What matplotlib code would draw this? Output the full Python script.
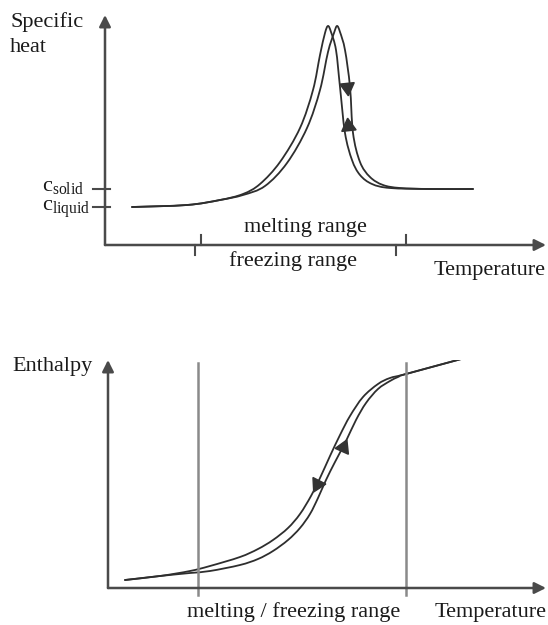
import numpy as np
import matplotlib
matplotlib.use("Agg")
import matplotlib.pyplot as plt
from matplotlib.path import Path
from matplotlib.patches import PathPatch

plt.rcParams['font.family'] = ['Liberation Serif', 'DejaVu Serif']
plt.rcParams['mathtext.fontset'] = 'custom'
plt.rcParams['mathtext.rm'] = 'Liberation Serif'
plt.rcParams['mathtext.it'] = 'Liberation Serif:italic'

W, H = 548, 625

# ---- top panel: specific heat vs temperature (arbitrary units)
c_solid = 56
c_liquid = 38
melt_ticks = [96, 301]
freeze_ticks = [90, 291]

freeze_T = [27, 82, 115, 138, 155, 175, 195, 208, 215, 220, 223, 226, 231, 235, 240, 247, 255, 267, 285, 325, 368]
freeze_c = [38, 40, 45, 51, 61, 83, 117, 155, 190, 212, 219, 213, 195, 158, 112, 85, 70, 61, 57, 56, 56]
melt_T = [27, 82, 115, 138, 160, 182, 202, 215, 223, 229, 232, 235, 240, 245, 248, 255, 265, 278, 295, 325, 368]
melt_c = [38, 40, 45, 50, 59, 82, 117, 155, 193, 212, 219, 213, 195, 158, 112, 83, 68, 60, 57, 56, 56]

# arrow heads on the curves: (T, c, rotation)
cp_arrows = [(242, 158, 186), (243, 119, 6)]

# ---- bottom panel: enthalpy vs temperature
range_lines = [90, 298]
hf_T = [17, 52, 82, 102, 132, 150, 165, 180, 192, 203, 212, 222, 232, 242, 255, 270, 282, 298, 357]
hf_H = [8, 12, 17, 22, 31, 39, 48, 60, 74, 92, 110, 132, 153, 172, 191, 204, 210, 214, 230]
hm_T = [17, 52, 82, 102, 132, 150, 165, 180, 192, 202, 210, 218, 227, 238, 248, 258, 270, 282, 290, 298, 357]
hm_H = [8, 12, 15, 17, 23, 29, 37, 48, 60, 74, 90, 108, 126, 147, 168, 185, 199, 207, 211, 214, 230]
h_arrows = [(209, 104, 153), (235, 141, -24)]

AX = '#4a4a4a'
LN = '#2e2e2e'
TX = '#1a1a1a'
FS = 16

fig = plt.figure(figsize=(W / 100, H / 100), dpi=100)


def px_axes(x0, y0, x1, y1):
    # axes placed by image pixels; one data unit is one pixel
    ax = fig.add_axes([x0 / W, 1 - y0 / H, (x1 - x0) / W, (y0 - y1) / H])
    ax.set_xlim(0, x1 - x0)
    ax.set_ylim(0, y0 - y1)
    ax.axis('off')
    for xy in [(1, 0), (0, 1)]:
        ax.annotate('', xy=xy, xytext=(0, 0), xycoords='axes fraction',
                    arrowprops=dict(arrowstyle='-|>', color=AX, lw=1.8,
                                    mutation_scale=17, shrinkA=0, shrinkB=0))
    return ax


def smooth_line(ax, xs, ys, **kw):
    # draw a smooth curve through the read points (Catmull-Rom as cubic Beziers)
    p = np.column_stack([xs, ys]).astype(float)
    q = np.vstack([p[0], p, p[-1]])
    verts = [p[0]]
    codes = [Path.MOVETO]
    for i in range(1, len(q) - 2):
        c1 = q[i] + (q[i + 1] - q[i - 1]) / 6
        c2 = q[i + 1] - (q[i + 2] - q[i]) / 6
        verts += [c1, c2, q[i + 1]]
        codes += [Path.CURVE4] * 3
    ax.add_patch(PathPatch(Path(verts, codes), fill=False, capstyle='round', **kw))


def ftext(x, y, s, **kw):
    kw.setdefault('va', 'baseline')
    fig.text(x / W, 1 - y / H, s, fontsize=kw.pop('fs', FS), color=TX, **kw)


# top
ax1 = px_axes(105, 245, 546, 15)
smooth_line(ax1, freeze_T, freeze_c, color=LN, lw=1.3)
smooth_line(ax1, melt_T, melt_c, color=LN, lw=1.3)
for T, c, rot in cp_arrows:
    ax1.plot(T, c, marker=(3, 0, rot), ms=12, color='#333333', mec='#333333')
for c in [c_solid, c_liquid]:
    ax1.plot([-12, 5], [c, c], color=AX, lw=1.5, clip_on=False)
for t in melt_ticks:
    ax1.plot([t, t], [0, 10], color=AX, lw=1.5, clip_on=False)
for t in freeze_ticks:
    ax1.plot([t, t], [0, -10], color=AX, lw=1.5, clip_on=False)

ftext(10, 27, 'Specific')
ftext(10, 52, 'heat')
ftext(42, 191, r'c$_{\mathrm{solid}}$')
ftext(42, 211, r'c$_{\mathrm{liquid}}$')
ftext(305, 232, 'melting range', ha='center')
ftext(293, 266, 'freezing range', ha='center')
ftext(434, 275, 'Temperature')

# bottom
ax2 = px_axes(108, 588, 546, 360)
for t in range_lines:
    ax2.plot([t, t], [-7, 225], color='#8a8a8a', lw=1.8, clip_on=False)
smooth_line(ax2, hf_T, hf_H, color=LN, lw=1.3)
smooth_line(ax2, hm_T, hm_H, color=LN, lw=1.3)
for T, h, rot in h_arrows:
    ax2.plot(T, h, marker=(3, 0, rot), ms=12, color='#333333', mec='#333333')

ftext(12, 371, 'Enthalpy')
ftext(294, 617, 'melting / freezing range', ha='center')
ftext(435, 617, 'Temperature')

fig.savefig('out.png', dpi=100)
